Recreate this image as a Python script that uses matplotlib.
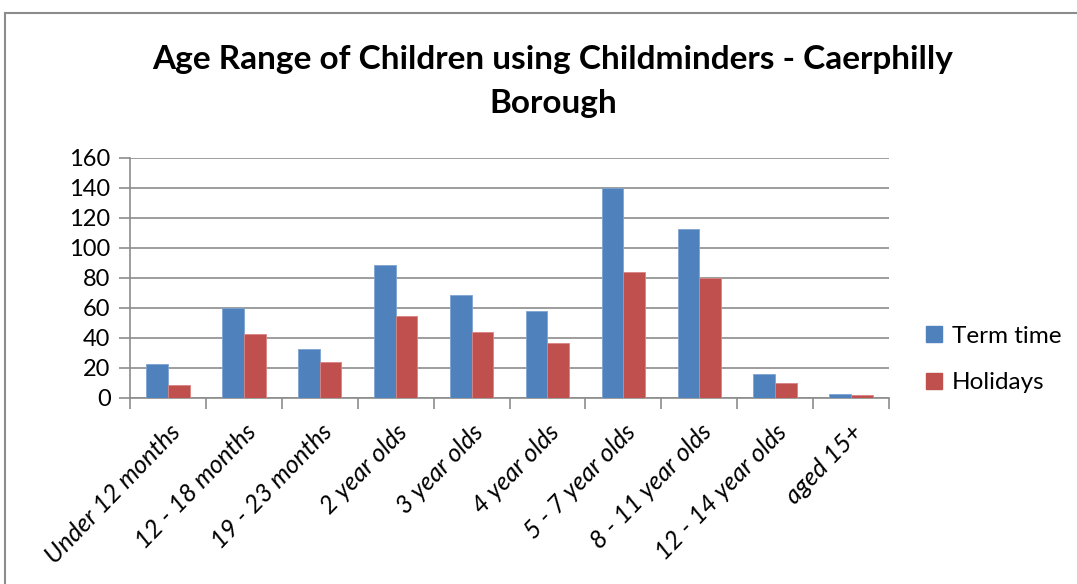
import numpy as np
import matplotlib
matplotlib.use("Agg")
import matplotlib.pyplot as plt
from matplotlib.lines import Line2D

# Data
categories = ["Under 12 months", "12 - 18 months", "19 - 23 months", "2 year olds",
              "3 year olds", "4 year olds", "5 - 7 year olds", "8 - 11 year olds",
              "12 - 14 year olds", "aged 15+"]
term_time = [23, 60, 33, 89, 69, 58, 140, 113, 16, 3]
holidays = [9, 43, 24, 55, 44, 37, 84, 80, 10, 2]
series_names = ["Term time", "Holidays"]
y_ticks = [0, 20, 40, 60, 80, 100, 120, 140, 160]

blue = "#4F81BD"
red = "#C0504D"
plt.rcParams["font.family"] = ["Lato", "DejaVu Sans"]

fig = plt.figure(figsize=(10.77, 5.84), dpi=100)
ax = fig.add_axes([130 / 1077, 186 / 584, 759 / 1077, 240 / 584])

x = np.arange(len(categories))
w = 0.286
ax.bar(x - w / 2, term_time, w, color=blue, edgecolor="#7FA3D3", linewidth=0.6,
       label=series_names[0], zorder=3)
ax.bar(x + w / 2, holidays, w, color=red, edgecolor="#D88583", linewidth=0.6,
       label=series_names[1], zorder=3)

ax.set_xlim(-0.5, len(categories) - 0.5)
ax.set_ylim(0, 160)
ax.set_yticks(y_ticks)
ax.set_yticklabels([str(v) for v in y_ticks], fontsize=17)
ax.yaxis.grid(True, color="#8C8C8C", linewidth=1.2, zorder=0)
ax.tick_params(axis="y", length=8, color="#8C8C8C", width=1.2, pad=6)

# category ticks between groups, labels at centres
ax.set_xticks(np.arange(len(categories) + 1) - 0.5)
ax.set_xticklabels([])
ax.set_xticks(x, minor=True)
ax.set_xticklabels(categories, minor=True, rotation=46, ha="right",
                   rotation_mode="anchor", fontsize=18, style="italic")
ax.tick_params(axis="x", which="major", length=8, color="#8C8C8C", width=1.2)
ax.tick_params(axis="x", which="minor", length=0, pad=16)

for s in ["top", "right"]:
    ax.spines[s].set_visible(False)
for s in ["left", "bottom"]:
    ax.spines[s].set_color("#8C8C8C")
    ax.spines[s].set_linewidth(1.2)

fig.text(553 / 1077, 1 - 60 / 584, "Age Range of Children using Childminders - Caerphilly",
         ha="center", va="center", fontsize=24, fontweight="bold")
fig.text(553 / 1077, 1 - 103 / 584, "Borough",
         ha="center", va="center", fontsize=24, fontweight="bold")

handles = [Line2D([], [], marker="s", linestyle="none", markersize=11, color=blue),
           Line2D([], [], marker="s", linestyle="none", markersize=11, color=red)]
fig.legend(handles, series_names, loc="upper left",
           bbox_to_anchor=(912 / 1077, 1 - 316 / 584), frameon=False,
           fontsize=17.5, labelspacing=1.05, handletextpad=0.25, handlelength=1.0,
           borderaxespad=0)

# chart area border
fig.add_artist(Line2D([5 / 1077, 5 / 1077], [0, 1 - 13 / 584], color="#8C8C8C",
                      linewidth=1.5, transform=fig.transFigure))
fig.add_artist(Line2D([5 / 1077, 1], [1 - 13 / 584, 1 - 13 / 584], color="#8C8C8C",
                      linewidth=1.5, transform=fig.transFigure))

fig.savefig("out.png", dpi=100)
